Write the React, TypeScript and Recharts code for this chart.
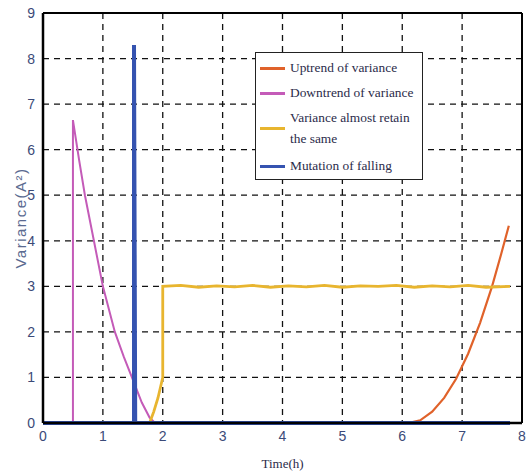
import React from "react";
import { ComposedChart, Line, XAxis, YAxis, CartesianGrid, ReferenceLine } from "recharts";

const xTicks = [0, 1, 2, 3, 4, 5, 6, 7, 8];
const yTicks = [0, 1, 2, 3, 4, 5, 6, 7, 8, 9];

const uptrend = [
  { x: 0, y: 0 }, { x: 6.1, y: 0 }, { x: 6.3, y: 0.06 }, { x: 6.5, y: 0.25 },
  { x: 6.7, y: 0.55 }, { x: 6.9, y: 0.97 }, { x: 7.1, y: 1.52 }, { x: 7.3, y: 2.2 },
  { x: 7.5, y: 3.0 }, { x: 7.65, y: 3.7 }, { x: 7.78, y: 4.33 },
];

const downtrend = [
  { x: 0, y: 0 }, { x: 0.5, y: 0 }, { x: 0.5, y: 6.65 }, { x: 0.6, y: 5.8 },
  { x: 0.7, y: 5.0 }, { x: 0.85, y: 4.0 }, { x: 1.0, y: 3.0 }, { x: 1.2, y: 2.0 },
  { x: 1.35, y: 1.45 }, { x: 1.5, y: 0.95 }, { x: 1.65, y: 0.45 }, { x: 1.78, y: 0.12 },
  { x: 1.87, y: 0 }, { x: 7.8, y: 0 },
];

const retain = [
  { x: 0, y: 0 }, { x: 1.78, y: 0 }, { x: 1.85, y: 0.25 }, { x: 1.92, y: 0.55 },
  { x: 2.0, y: 1.0 }, { x: 2.0, y: 3.0 }, { x: 2.3, y: 3.02 }, { x: 2.6, y: 2.98 },
  { x: 2.9, y: 3.01 }, { x: 3.2, y: 2.99 }, { x: 3.5, y: 3.02 }, { x: 3.8, y: 2.98 },
  { x: 4.1, y: 3.01 }, { x: 4.4, y: 2.99 }, { x: 4.7, y: 3.02 }, { x: 5.0, y: 2.98 },
  { x: 5.3, y: 3.01 }, { x: 5.6, y: 3.0 }, { x: 5.9, y: 3.02 }, { x: 6.2, y: 2.98 },
  { x: 6.5, y: 3.01 }, { x: 6.8, y: 2.99 }, { x: 7.1, y: 3.02 }, { x: 7.4, y: 2.98 },
  { x: 7.8, y: 3.0 },
];

const falling = [
  { x: 0, y: 0 }, { x: 1.52, y: 0 }, { x: 1.52, y: 8.3 }, { x: 1.54, y: 0 }, { x: 7.8, y: 0 },
];

const series = [
  { name: "Uptrend of variance", color: "#e0622a", data: uptrend, width: 2.2 },
  { name: "Downtrend of variance", color: "#c45bb8", data: downtrend, width: 2 },
  { name: "Variance almost retain the same", color: "#e8b52f", data: retain, width: 2.8 },
  { name: "Mutation of falling", color: "#3553b0", data: falling, width: 4 },
];

const tickColor = "#3b4a78";

const LegendBox = () => (
  <div
    style={{
      position: "absolute", left: 255, top: 52, width: 166, height: 126,
      border: "1.5px solid #222", background: "#fff",
      fontFamily: "'Liberation Serif', 'Times New Roman', serif", fontSize: 13.4,
      color: "#2b2b4a", lineHeight: "14px",
    }}
  >
    {[
      { c: series[0].color, t: ["Uptrend of variance"], top: 8 },
      { c: series[1].color, t: ["Downtrend of variance"], top: 33 },
      { c: series[2].color, t: ["Variance almost retain", "the same"], top: 58 },
      { c: series[3].color, t: ["Mutation of falling"], top: 106 },
    ].map((e, i) => (
      <div key={i} style={{ position: "absolute", left: 4, top: e.top, display: "flex", alignItems: "center" }}>
        <div style={{ width: 25, height: 3, background: e.c, marginRight: 5 }} />
        <div style={{ whiteSpace: "nowrap" }}>
          {e.t.map((s, j) => (
            <div key={j} style={{ height: j === 0 && e.t.length > 1 ? 21 : 14 }}>{s}</div>
          ))}
        </div>
      </div>
    ))}
  </div>
);

export default function App() {
  return (
    <div style={{ position: "absolute", left: 0, top: 0, width: 528, height: 471, background: "#fff" }}>
      <ComposedChart width={528} height={471} margin={{ top: 13, right: 6, bottom: 0, left: 0 }}>
        <CartesianGrid stroke="#111" strokeDasharray="6 5" strokeWidth={1.3} />
        <XAxis
          type="number" dataKey="x" domain={[0, 8]} ticks={xTicks} height={48}
          axisLine={{ stroke: "#000", strokeWidth: 2.5 }} tickLine={false}
          tick={{ fill: tickColor, fontSize: 14, fontFamily: "'Liberation Sans', Arial, sans-serif" }}
          tickMargin={2}
          label={{ value: "Time(h)", position: "insideBottom", offset: 3, fill: "#2b2b4a", fontSize: 13, fontFamily: "'Liberation Serif', serif" }}
        />
        <YAxis
          type="number" domain={[0, 9]} ticks={yTicks} width={43}
          axisLine={{ stroke: "#000", strokeWidth: 2.5 }} tickLine={false}
          tick={{ fill: tickColor, fontSize: 14, fontFamily: "'Liberation Sans', Arial, sans-serif" }}
          tickMargin={2}
          label={{ value: "Variance(A²)", angle: -90, position: "insideLeft", offset: 21, textAnchor: "middle", fill: "#5a6a90", fontSize: 15, letterSpacing: 1.5, fontFamily: "'Liberation Sans', Arial, sans-serif" }}
        />
        <ReferenceLine y={9} stroke="#000" strokeWidth={2} />
        <ReferenceLine x={8} stroke="#000" strokeWidth={2} />
        {series.map((s) => (
          <Line
            key={s.name} data={s.data} dataKey="y" name={s.name} type="linear"
            stroke={s.color} strokeWidth={s.width} dot={false} isAnimationActive={false}
          />
        ))}
      </ComposedChart>
      <LegendBox />
    </div>
  );
}
